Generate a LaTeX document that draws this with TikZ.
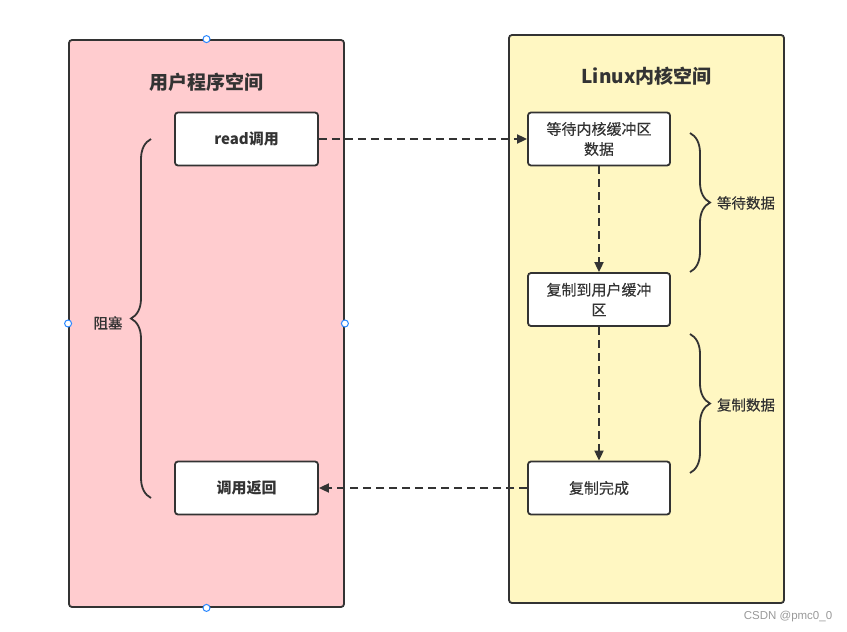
\documentclass[tikz,border=0pt]{standalone}
\usepackage{fontspec}
\setmainfont{Noto Sans CJK SC}
\newfontfamily\midfont[FakeBold=0.35]{Noto Sans CJK SC}
\newfontfamily\markfont{Liberation Sans}
\usetikzlibrary{arrows.meta,positioning,decorations.pathreplacing}
\definecolor{userpink}{RGB}{255,204,207}
\definecolor{kernyellow}{RGB}{255,247,194}
\definecolor{edge}{RGB}{51,51,51}
\definecolor{handle}{RGB}{41,135,255}

\tikzset{
  panel/.style={draw=edge, line width=1.8pt, rounded corners=3pt, minimum width=275pt, minimum height=567pt, inner sep=0pt},
  stepbox/.style={draw=edge, fill=white, line width=1.8pt, rounded corners=3pt, minimum width=143pt, minimum height=53pt, align=center, text=edge, font=\fontsize{15}{20}\selectfont\midfont},
  flow/.style={draw=edge, line width=1.8pt, dash pattern=on 8pt off 5pt, -{Triangle[length=10pt,width=9pt]}},
  bracket/.style={draw=edge, line width=1.8pt, decorate, decoration={brace,amplitude=20pt}},
  handledot/.style={circle, draw=handle, fill=white, line width=1pt, inner sep=0pt, minimum size=7pt},
  sidelabel/.style={text=edge, font=\fontsize{14.5}{18}\selectfont\midfont}
}

\begin{document}
\begin{tikzpicture}[x=1pt,y=-1pt]
    \useasboundingbox (0,0) rectangle (847,632);

    % les deux espaces
    \node[panel, fill=userpink] (user) at (206.5,323.5) {};
    \node[panel, fill=kernyellow, minimum height=568pt] (kernel) at (646.5,319) {};

    \node[text=edge, font=\fontsize{19}{22}\selectfont\bfseries] (usertitle) at (206.5,82) {用户程序空间};
    \node[text=edge, font=\fontsize{19}{22}\selectfont\bfseries] (kerneltitle) at (646.5,76) {Linux内核空间};

    % etapes
    \node[stepbox, font=\fontsize{15}{20}\selectfont\bfseries] (read) at (246.5,139) {read调用};
    \node[stepbox, font=\fontsize{15}{20}\selectfont\bfseries] (ret) at (246.5,488) {调用返回};
    \node[stepbox, minimum width=142pt] (wait) at (599,139) {等待内核缓冲区\\数据};
    \node[stepbox, minimum width=142pt] (copy) at (599,299.5) {复制到用户缓冲\\区};
    \node[stepbox, minimum width=142pt] (done) at (599,488) {复制完成};

    \draw[flow] (read.east) -- (wait.west);
    \draw[flow] (wait.south) -- (copy.north);
    \draw[flow] (copy.south) -- (done.north);
    \draw[flow] (done.west) -- (ret.east);

    % accolades
    \draw[bracket] (151,498) -- (151,139);
    \draw[bracket] (690,133) -- (690,272);
    \draw[bracket] (690,334) -- (690,473);
    \node[sidelabel] (block) at (108,323) {阻塞};
    \node[sidelabel] (waitlbl) at (746,203) {等待数据};
    \node[sidelabel] (copylbl) at (746,405) {复制数据};

    % poignees de selection
    \node[handledot] (h1) at (user.north) {};
    \node[handledot] (h2) at (user.west) {};
    \node[handledot] (h3) at (user.east) {};
    \node[handledot] (h4) at (user.south) {};

    \node[text=gray!80, font=\fontsize{11.5}{13}\selectfont\markfont] (mark) at (788,617) {CSDN @pmc0\_0};
\end{tikzpicture}
\end{document}
